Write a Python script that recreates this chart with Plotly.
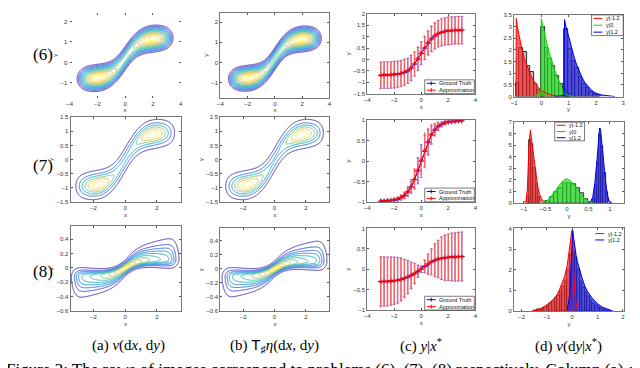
import numpy as np
import plotly.graph_objects as go

W, H = 640, 368

# ---------------- columns (a)/(b): joint densities ----------------
# x-marginal mixture (centres, weights, spreads) cut by a soft window (edge, softness);
# band y = off + amp*tanh(k*x); y spread s0*(1 + s1*|x|); skew of the spread away from the centre
a6_xc, a6_xw, a6_xs, a6_win = [-2.0, 0.0, 2.0], [1.0, 0.45, 1.0], [0.75, 1.0, 0.75], [3.3, 0.22]
a6_curve, a6_ys, a6_skew = [0.2, 1.0, 0.95], [0.27, 0.0], 0.0
b6_xc, b6_xw, b6_xs, b6_win = [-2.0, 0.0, 2.0], [1.0, 0.42, 1.0], [0.73, 1.0, 0.73], [3.25, 0.22]
b6_curve, b6_ys, b6_skew = [0.2, 1.0, 1.0], [0.26, 0.0], 0.0

a7_xc, a7_xw, a7_xs, a7_win = [-1.8, 0.0, 1.8], [1.0, 0.36, 1.0], [0.75, 0.9, 0.75], [3.1, 0.15]
a7_curve, a7_ys, a7_skew = [0.0, 0.95, 1.0], [0.24, 0.0], 0.0
b7_xc, b7_xw, b7_xs, b7_win = [-1.8, 0.0, 1.8], [1.0, 0.34, 1.0], [0.75, 0.9, 0.75], [3.1, 0.15]
b7_curve, b7_ys, b7_skew = [0.0, 0.95, 1.0], [0.24, 0.0], 0.0

a8_xc, a8_xw, a8_xs, a8_win = [0.0], [1.0], [50.0], [3.1, 0.15]
a8_curve, a8_ys, a8_skew = [0.0, 0.12, 1.0], [0.045, 0.45], 0.4
b8_xc, b8_xw, b8_xs, b8_win = [0.0], [1.0], [50.0], [3.05, 0.15]
b8_curve, b8_ys, b8_skew = [0.0, 0.11, 1.0], [0.045, 0.47], 0.38

# ---------------- column (c): conditional mean +- std ----------------
xs_c = [-3, -2.75, -2.5, -2.25, -2, -1.75, -1.5, -1.25, -1, -0.75, -0.5, -0.25, 0,
        0.25, 0.5, 0.75, 1, 1.25, 1.5, 1.75, 2, 2.25, 2.5, 2.75, 3]
gt6_mean = [-0.70, -0.69, -0.69, -0.68, -0.67, -0.65, -0.62, -0.57, -0.50, -0.38, -0.20, 0.02, 0.27,
            0.50, 0.72, 0.90, 1.03, 1.13, 1.19, 1.23, 1.26, 1.27, 1.28, 1.29, 1.29]
gt6_err = [0.58, 0.58, 0.58, 0.58, 0.58, 0.57, 0.57, 0.56, 0.55, 0.55, 0.53, 0.50, 0.50,
           0.50, 0.52, 0.55, 0.57, 0.58, 0.59, 0.60, 0.60, 0.60, 0.60, 0.60, 0.60]
ap6_mean = [-0.69, -0.68, -0.68, -0.67, -0.66, -0.64, -0.61, -0.56, -0.49, -0.37, -0.19, 0.03, 0.28,
            0.51, 0.73, 0.91, 1.04, 1.14, 1.20, 1.24, 1.26, 1.27, 1.28, 1.28, 1.29]
ap6_err = [0.56, 0.57, 0.58, 0.57, 0.58, 0.56, 0.58, 0.57, 0.54, 0.56, 0.52, 0.52, 0.49,
           0.51, 0.53, 0.56, 0.58, 0.57, 0.60, 0.59, 0.61, 0.60, 0.59, 0.60, 0.60]

gt7_mean = [-0.99, -0.99, -0.98, -0.97, -0.96, -0.94, -0.90, -0.85, -0.76, -0.64, -0.46, -0.24, 0.0,
            0.24, 0.46, 0.64, 0.76, 0.85, 0.90, 0.94, 0.96, 0.97, 0.98, 0.99, 0.99]
gt7_err = [0.01, 0.01, 0.02, 0.02, 0.03, 0.04, 0.05, 0.07, 0.10, 0.15, 0.22, 0.32, 0.40,
           0.38, 0.30, 0.22, 0.14, 0.09, 0.06, 0.04, 0.03, 0.02, 0.02, 0.01, 0.01]
ap7_mean = [-0.98, -0.98, -0.97, -0.97, -0.95, -0.93, -0.89, -0.84, -0.75, -0.62, -0.44, -0.22, 0.02,
            0.26, 0.47, 0.65, 0.77, 0.85, 0.90, 0.94, 0.96, 0.97, 0.98, 0.98, 0.99]
ap7_err = [0.01, 0.01, 0.02, 0.03, 0.03, 0.05, 0.06, 0.08, 0.12, 0.17, 0.25, 0.30, 0.36,
           0.42, 0.33, 0.24, 0.15, 0.10, 0.06, 0.04, 0.03, 0.02, 0.02, 0.01, 0.01]

gt8_mean = [-0.30, -0.30, -0.30, -0.29, -0.28, -0.27, -0.25, -0.22, -0.19, -0.15, -0.10, -0.05, 0.0,
            0.07, 0.13, 0.18, 0.22, 0.25, 0.27, 0.28, 0.29, 0.30, 0.30, 0.31, 0.31]
gt8_err = [0.60, 0.60, 0.60, 0.59, 0.58, 0.56, 0.52, 0.46, 0.40, 0.32, 0.24, 0.15, 0.08,
           0.15, 0.24, 0.32, 0.40, 0.46, 0.52, 0.55, 0.57, 0.58, 0.59, 0.59, 0.60]
ap8_mean = [-0.31, -0.30, -0.30, -0.29, -0.29, -0.27, -0.25, -0.23, -0.19, -0.15, -0.11, -0.05, 0.01,
            0.07, 0.12, 0.18, 0.22, 0.25, 0.27, 0.28, 0.29, 0.30, 0.30, 0.31, 0.31]
ap8_err = [0.61, 0.60, 0.59, 0.59, 0.57, 0.56, 0.53, 0.47, 0.41, 0.33, 0.25, 0.14, 0.07,
           0.16, 0.25, 0.31, 0.40, 0.45, 0.52, 0.56, 0.57, 0.59, 0.59, 0.60, 0.60]

# ---------------- column (d): conditional densities ----------------
d6_red_x = [-0.93, -0.92, -0.88, -0.8, -0.7, -0.6, -0.5, -0.4, -0.3, -0.2, -0.1, 0.0, 0.2, 0.4, 0.6]
d6_red_y = [0.0, 3.35, 3.0, 2.45, 1.95, 1.55, 1.2, 0.95, 0.72, 0.52, 0.38, 0.27, 0.13, 0.06, 0.02]
d6_grn_x = [-0.3, -0.1, -0.01, 0.0, 0.05, 0.1, 0.2, 0.3, 0.4, 0.5, 0.6, 0.7, 0.8, 0.9, 1.0, 1.2]
d6_grn_y = [0.0, 0.1, 0.2, 3.35, 3.05, 2.75, 2.3, 1.85, 1.45, 1.1, 0.8, 0.5, 0.25, 0.12, 0.05, 0.0]
d6_blu_x = [0.5, 0.84, 0.85, 0.9, 1.0, 1.1, 1.2, 1.3, 1.4, 1.5, 1.6, 1.7, 1.8, 1.9, 2.0, 2.2, 2.4, 2.7]
d6_blu_y = [0.0, 0.05, 3.3, 3.0, 2.6, 2.1, 1.7, 1.35, 1.05, 0.8, 0.6, 0.45, 0.32, 0.22, 0.15, 0.07, 0.03, 0.0]
h6_red_c = [-0.865, -0.735, -0.605, -0.475, -0.345, -0.215, -0.085, 0.045]
h6_red_h = [0.6, 2.1, 1.9, 1.3, 1.05, 0.55, 0.3, 0.1]
h6_grn_c = [0.065, 0.195, 0.325, 0.455, 0.585, 0.715, 0.845, 0.975]
h6_grn_h = [3.0, 2.1, 1.6, 1.3, 0.9, 0.55, 0.3, 0.12]
h6_blu_c = [0.915, 1.045, 1.175, 1.305, 1.435, 1.565, 1.695, 1.825, 1.955, 2.085]
h6_blu_h = [2.9, 2.05, 1.55, 1.25, 0.85, 0.55, 0.38, 0.22, 0.12, 0.06]

d7_red_x = [-1.0, -0.95, -0.92, -0.9, -0.88, -0.85, -0.82, -0.79, -0.76, -0.72, -0.68, -0.64, -0.6, -0.55, -0.5]
d7_red_y = [0.0, 0.2, 1.2, 3.5, 5.3, 6.3, 5.4, 4.2, 3.3, 2.2, 1.4, 0.8, 0.4, 0.15, 0.05]
d7_grn_x = [-0.6, -0.5, -0.4, -0.3, -0.2, -0.1, 0.0, 0.1, 0.2, 0.3, 0.4, 0.5, 0.6]
d7_grn_y = [0.02, 0.1, 0.4, 0.9, 1.4, 1.9, 2.1, 1.85, 1.45, 0.85, 0.4, 0.12, 0.02]
d7_blu_x = [0.5, 0.55, 0.6, 0.65, 0.7, 0.73, 0.76, 0.78, 0.8, 0.83, 0.86, 0.9, 0.94, 0.98, 1.05]
d7_blu_y = [0.0, 0.1, 0.5, 1.8, 3.8, 5.5, 6.5, 6.4, 5.6, 4.5, 3.2, 1.8, 0.7, 0.15, 0.0]
h7_red_c = [-0.905, -0.855, -0.805, -0.755, -0.705, -0.655]
h7_red_h = [0.5, 5.4, 5.1, 3.0, 1.6, 0.5]
h7_grn_c = [-0.45, -0.35, -0.25, -0.15, -0.05, 0.05, 0.15, 0.25, 0.35, 0.45]
h7_grn_h = [0.15, 0.5, 0.9, 1.3, 1.75, 1.75, 1.6, 1.3, 0.8, 0.3]
h7_blu_c = [0.625, 0.675, 0.725, 0.775, 0.825, 0.875, 0.925]
h7_blu_h = [0.3, 1.5, 3.5, 6.0, 4.9, 2.6, 0.9]

d8_red_x = [-1.6, -1.4, -1.2, -1.0, -0.8, -0.6, -0.5, -0.4, -0.3, -0.2, -0.15, -0.1, -0.05, -0.02, 0.0, 0.05, 0.1, 0.2]
d8_red_y = [0.0, 0.05, 0.15, 0.3, 0.5, 0.8, 1.05, 1.35, 1.7, 2.2, 2.6, 3.1, 3.6, 3.9, 3.7, 2.2, 0.8, 0.05]
d8_blu_x = [-0.2, -0.1, -0.05, 0.0, 0.02, 0.05, 0.1, 0.15, 0.2, 0.3, 0.4, 0.5, 0.6, 0.8, 1.0, 1.2, 1.4, 1.6]
d8_blu_y = [0.05, 0.8, 2.2, 3.7, 3.9, 3.6, 3.1, 2.7, 2.4, 1.9, 1.55, 1.2, 0.95, 0.6, 0.35, 0.18, 0.07, 0.0]
h8_red_c = [-1.45, -1.35, -1.25, -1.15, -1.05, -0.95, -0.85, -0.75, -0.65, -0.55, -0.45, -0.35, -0.25, -0.15, -0.05]
h8_red_h = [0.04, 0.06, 0.1, 0.14, 0.2, 0.26, 0.35, 0.45, 0.6, 0.75, 0.95, 1.2, 1.5, 1.95, 2.75]
h8_blu_c = [0.05, 0.15, 0.25, 0.35, 0.45, 0.55, 0.65, 0.75, 0.85, 0.95, 1.05, 1.15, 1.25, 1.35, 1.45]
h8_blu_h = [2.85, 2.6, 2.0, 1.45, 1.15, 0.9, 0.7, 0.5, 0.38, 0.28, 0.2, 0.13, 0.08, 0.05, 0.03]

legend_c = ['Ground Truth', 'Approximation']
legend_d = ['y|-1.2', 'y|0', 'y|1.2']
captions = ['(a) <i>ν</i>(d<i>x</i>, d<i>y</i>)',
            '(b) <span style="font-family:Liberation Sans">T</span><sub>♯</sub><i>η</i>(d<i>x</i>, d<i>y</i>)',
            '(c) <i>y</i>|<i>x</i><sup>*</sup>',
            '(d) <i>ν</i>(d<i>y</i>|<i>x</i><sup>*</sup>)']
row_labels = ['(6)', '(7)', '(8)']
footer = 'Figure 2: The rows of images correspond to problems (6), (7), (8) respectively. Column (a) c'

PARULA = [[0, '#3E26A8'], [0.125, '#2F4BE0'], [0.25, '#1481D6'], [0.375, '#06A4CA'],
          [0.5, '#2EB7A4'], [0.625, '#87BF77'], [0.75, '#D1BB59'], [0.875, '#FEC832'], [1, '#F9FB0E']]
RED, GRN, BLU = 'rgb(255,0,0)', 'rgb(0,220,0)', 'rgb(0,0,235)'


def px_x(p):
    return p / W


def px_y(p):
    return 1 - p / H


# panel layout in pixels: x-domain, y-domain (top, bottom), ranges, tick steps, titles
panels = {
    1: dict(x=(59, 171), y=(2, 88), xr=(-4.001, 4.001), yr=(-1.72, 2.42), dx=2, dy=1, xt='x', yt='y', box=False),
    2: dict(x=(211, 321), y=(2, 88), xr=(-4.001, 4.001), yr=(-1.72, 2.45), dx=2, dy=1, xt='x', yt='y'),
    3: dict(x=(359, 468), y=(3, 84), xr=(-4.001, 4.001), yr=(-1.501, 2.001), dx=2, dy=0.5, xt='x', yt='y'),
    4: dict(x=(507, 617), y=(4, 87), xr=(-1.001, 3.001), yr=(0, 3.501), dx=1, dy=0.5, xt='y', yt=None),
    5: dict(x=(60, 171), y=(108, 194), xr=(-3.45, 3.5), yr=(-1.501, 1.501), dx=2, dy=0.5, xt='x', yt='y'),
    6: dict(x=(211, 321), y=(108, 194), xr=(-3.45, 3.5), yr=(-1.501, 1.501), dx=2, dy=0.5, xt='x', yt='y'),
    7: dict(x=(359, 468), y=(111, 194), xr=(-4.001, 4.001), yr=(-1.001, 1.001), dx=2, dy=0.5, xt='x', yt='y'),
    8: dict(x=(507, 618), y=(113, 195), xr=(-1.23, 1.33), yr=(0, 7.001), dx=0.5, dy=1, xt='y', yt=None),
    9: dict(x=(60, 171), y=(219, 305), xr=(-3.45, 3.5), yr=(-0.601, 0.58), dx=2, dy=0.2, xt='x', yt='y'),
    10: dict(x=(211, 321), y=(221, 305), xr=(-3.45, 3.5), yr=(-0.601, 0.58), dx=2, dy=0.2, xt='x', yt='y'),
    11: dict(x=(359, 468), y=(221, 304), xr=(-4.001, 4.001), yr=(-1.001, 1.001), dx=2, dy=0.5, xt='x', yt='y'),
    12: dict(x=(507, 618), y=(221, 305), xr=(-2.3, 2.05), yr=(0, 4.001), dx=1, dy=1, xt='y', yt=None),
}

fig = go.Figure()


def ax(i):
    return ('x' if i == 1 else 'x%d' % i), ('y' if i == 1 else 'y%d' % i)


def band_density(xc, xw, xs, win, curve, ys, skew, xr, yr, n=220):
    gx = np.linspace(xr[0], xr[1], n)
    gy = np.linspace(yr[0], yr[1], n)
    X, Y = np.meshgrid(gx, gy)
    pxm = np.zeros_like(X)
    for c, w, s in zip(xc, xw, xs):
        pxm += w * np.exp(-0.5 * ((X - c) / s) ** 2)
    pxm /= 1 + np.exp((np.abs(X) - win[0]) / win[1])
    mu = curve[0] + curve[1] * np.tanh(curve[2] * X)
    sig = ys[0] * (1 + ys[1] * np.abs(X))
    side_sig = sig * (1 + skew * np.tanh(2 * X) * np.tanh(40 * (Y - mu)))
    z = pxm * np.exp(-0.5 * ((Y - mu) / side_sig) ** 2) / sig
    return gx, gy, z / z.max()


def add_contour(i, params, levels, power=1.0):
    xa, ya = ax(i)
    p = panels[i]
    gx, gy, z = band_density(*params, p['xr'], p['yr'])
    z = z ** power
    fig.add_trace(go.Contour(x=gx, y=gy, z=z, xaxis=xa, yaxis=ya, autocontour=False,
                             contours=dict(coloring='lines', start=levels[0], end=levels[1], size=levels[2]),
                             zmin=levels[0], zmax=levels[1], colorscale=PARULA, showscale=False,
                             line=dict(width=0.9, smoothing=1), hoverinfo='skip'))


add_contour(1, (a6_xc, a6_xw, a6_xs, a6_win, a6_curve, a6_ys, a6_skew), (0.22, 0.97, 0.0625), power=0.5)
add_contour(2, (b6_xc, b6_xw, b6_xs, b6_win, b6_curve, b6_ys, b6_skew), (0.22, 0.97, 0.0625), power=0.5)
add_contour(5, (a7_xc, a7_xw, a7_xs, a7_win, a7_curve, a7_ys, a7_skew), (0.1, 0.98, 0.16))
add_contour(6, (b7_xc, b7_xw, b7_xs, b7_win, b7_curve, b7_ys, b7_skew), (0.1, 0.98, 0.16))
add_contour(9, (a8_xc, a8_xw, a8_xs, a8_win, a8_curve, a8_ys, a8_skew), (0.05, 0.95, 0.09))
add_contour(10, (b8_xc, b8_xw, b8_xs, b8_win, b8_curve, b8_ys, b8_skew), (0.05, 0.95, 0.09))


def add_errbars(i, gm, ge, am, ae):
    xa, ya = ax(i)
    fig.add_trace(go.Scatter(x=xs_c, y=gm, xaxis=xa, yaxis=ya, mode='lines+markers',
                             line=dict(color='blue', width=1),
                             marker=dict(symbol='cross-thin', size=4, line=dict(color='blue', width=1)),
                             error_y=dict(array=ge, color='blue', thickness=0.5, width=1.5)))
    fig.add_trace(go.Scatter(x=xs_c, y=am, xaxis=xa, yaxis=ya, mode='lines+markers',
                             line=dict(color='red', width=1),
                             marker=dict(symbol='asterisk-open', size=3, line=dict(color='red', width=0.8)),
                             error_y=dict(array=ae, color='rgb(255,95,95)', thickness=1.4, width=0.8)))


add_errbars(3, gt6_mean, gt6_err, ap6_mean, ap6_err)
add_errbars(7, gt7_mean, gt7_err, ap7_mean, ap7_err)
add_errbars(11, gt8_mean, gt8_err, ap8_mean, ap8_err)

FILL = {RED: 'rgba(245,40,40,0.7)', GRN: 'rgba(40,230,40,0.7)', BLU: 'rgba(40,40,225,0.75)'}


def add_hist(i, curves, bars, width):
    xa, ya = ax(i)
    for (cx, cy, col) in curves:
        fig.add_trace(go.Scatter(x=cx, y=cy, xaxis=xa, yaxis=ya, mode='lines', fill='tozeroy',
                                 fillcolor=FILL[col], line=dict(color=col, width=0)))
    for (bc, bh), w in zip(bars, width):
        fig.add_trace(go.Bar(x=bc, y=bh, width=w, xaxis=xa, yaxis=ya,
                             marker=dict(color='rgba(0,0,0,0.25)', line=dict(color='black', width=0.8))))
    for (cx, cy, col) in curves:
        fig.add_trace(go.Scatter(x=cx, y=cy, xaxis=xa, yaxis=ya, mode='lines',
                                 line=dict(color=col, width=1)))


add_hist(4, [(d6_red_x, d6_red_y, RED), (d6_grn_x, d6_grn_y, GRN), (d6_blu_x, d6_blu_y, BLU)],
         [(h6_red_c, h6_red_h), (h6_grn_c, h6_grn_h), (h6_blu_c, h6_blu_h)], [0.13, 0.13, 0.13])
add_hist(8, [(d7_red_x, d7_red_y, RED), (d7_grn_x, d7_grn_y, GRN), (d7_blu_x, d7_blu_y, BLU)],
         [(h7_red_c, h7_red_h), (h7_grn_c, h7_grn_h), (h7_blu_c, h7_blu_h)], [0.05, 0.1, 0.05])
add_hist(12, [(d8_red_x, d8_red_y, RED), (d8_blu_x, d8_blu_y, BLU)],
         [(h8_red_c, h8_red_h), (h8_blu_c, h8_blu_h)], [0.1, 0.1])

# axes
TICKF = dict(family='Liberation Sans', size=6, color='#333')
layout_axes = {}
for i, p in panels.items():
    sfx = '' if i == 1 else str(i)
    linecol = 'rgba(0,0,0,0)' if p.get('box') is False else '#777'
    common = dict(ticks='inside', ticklen=2, tickcolor='#555', tickwidth=0.6, tick0=0,
                  showline=True, mirror='ticks', linecolor=linecol, linewidth=1,
                  showgrid=False, zeroline=False, tickfont=TICKF)
    xa = dict(domain=[px_x(p['x'][0]), px_x(p['x'][1])], anchor='y' + sfx, range=list(p['xr']),
              dtick=p['dx'], title=dict(text=p['xt'], font=TICKF, standoff=2), **common)
    ya = dict(domain=[px_y(p['y'][1]), px_y(p['y'][0])], anchor='x' + sfx, range=list(p['yr']),
              dtick=p['dy'], **common)
    if p['yt']:
        ya['title'] = dict(text=p['yt'], font=TICKF, standoff=2)
    layout_axes['xaxis' + sfx] = xa
    layout_axes['yaxis' + sfx] = ya

shapes, annots = [], []
LEGF = dict(family='Liberation Sans', size=5.5, color='#111')


def legend_box(box, labels, colors, border=True, marks=False):
    x0, y0, x1, y1 = box
    if border:
        shapes.append(dict(type='rect', xref='paper', yref='paper', x0=px_x(x0), x1=px_x(x1),
                           y0=px_y(y1), y1=px_y(y0), line=dict(color='#444', width=0.7), fillcolor='white'))
    n = len(labels)
    step = (y1 - y0) / n
    for k, (lab, col) in enumerate(zip(labels, colors)):
        yy = y0 + step * (k + 0.5)
        shapes.append(dict(type='line', xref='paper', yref='paper', x0=px_x(x0 + 2), x1=px_x(x0 + 11),
                           y0=px_y(yy), y1=px_y(yy), line=dict(color=col, width=1)))
        if marks:
            shapes.append(dict(type='line', xref='paper', yref='paper', x0=px_x(x0 + 6.5), x1=px_x(x0 + 6.5),
                               y0=px_y(yy - 2), y1=px_y(yy + 2), line=dict(color=col, width=1)))
        annots.append(dict(text=lab, xref='paper', yref='paper', x=px_x(x0 + 12.5), y=px_y(yy),
                           xanchor='left', yanchor='middle', showarrow=False, font=LEGF))


for top in (70, 180, 290):
    legend_box((417, top, 467, top + 14), legend_c, ['blue', 'red'], marks=True)
legend_box((585, 4, 617, 25), legend_d, [RED, GRN, BLU])
legend_box((548, 113, 578, 132), legend_d, [RED, GRN, BLU])
legend_box((587, 223, 617, 236), [legend_d[0], legend_d[2]], [RED, BLU], border=False)

SERIF = 'Liberation Serif'
for lab, cy in zip(row_labels, (44, 157, 265)):
    annots.append(dict(text=lab, xref='paper', yref='paper', x=px_x(32), y=px_y(cy), xanchor='center',
                       yanchor='middle', showarrow=False, font=dict(family=SERIF, size=17, color='black')))
for cap, cx in zip(captions, (118, 266, 413, 562)):
    annots.append(dict(text=cap, xref='paper', yref='paper', x=px_x(cx), y=px_y(340), xanchor='center',
                       yanchor='middle', showarrow=False, font=dict(family=SERIF, size=15, color='black')))
annots.append(dict(text=footer, xref='paper', yref='paper', x=px_x(-7), y=px_y(364), xanchor='left',
                   yanchor='middle', showarrow=False, font=dict(family=SERIF, size=17, color='black')))

fig.update_layout(width=W, height=H, margin=dict(l=0, r=0, t=0, b=0), paper_bgcolor='white',
                  plot_bgcolor='white', showlegend=False, barmode='overlay', bargap=0,
                  shapes=shapes, annotations=annots, **layout_axes)

fig.write_html('out.html')
